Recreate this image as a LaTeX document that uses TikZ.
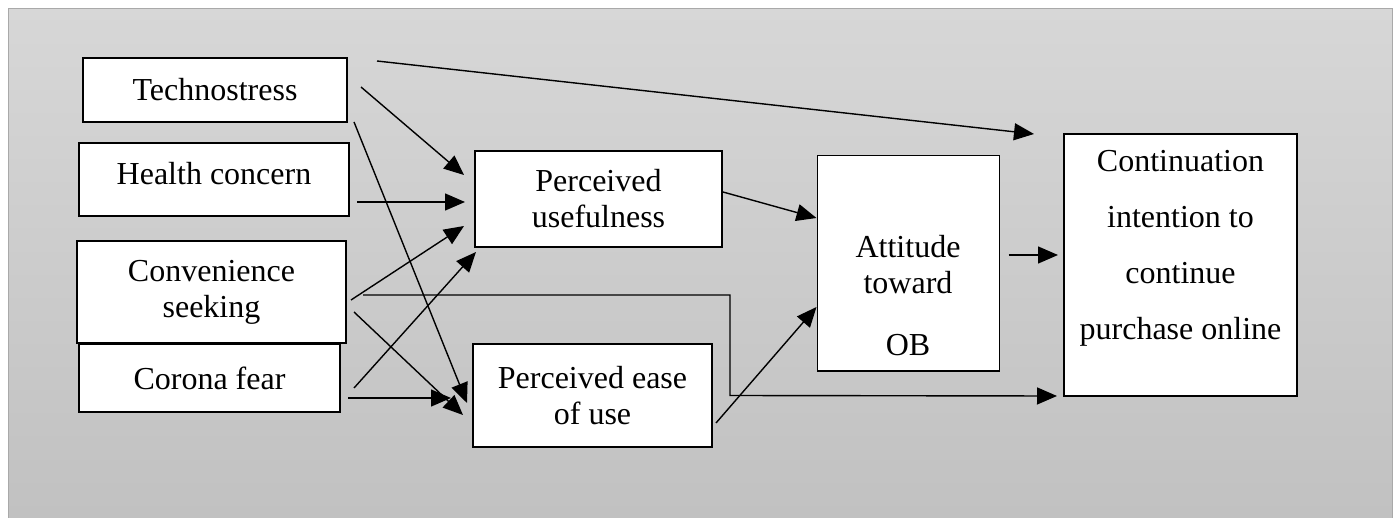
\documentclass[tikz,border=0pt]{standalone}
\usepackage{fontspec}
\setmainfont{Liberation Serif}
\usetikzlibrary{calc,arrows.meta}
\definecolor{bgtop} {HTML}{D7D7D7}
\definecolor{bgbot} {HTML}{C0C0C0}
\definecolor{bgrule}{HTML}{A9A9A9}

\begin{document}
\begin{tikzpicture}[x=0.5pt, y=-0.5pt,
    every node/.style={font=\fontsize{16}{18}\selectfont},
    box/.style={draw, fill=white, line width=1pt, inner sep=0pt, align=center},
    lbl/.style={inner sep=0pt, align=center},
    arr/.style={-{Triangle[length=10pt,width=8.5pt]}, line width=0.7pt}]
  \useasboundingbox (0,0) rectangle (1398,518);
  \fill[white] (0,0) rectangle (1398,518);
  \shade[top color=bgtop, bottom color=bgbot, draw=bgrule, line width=0.6pt]
    (8.5,8.5) rectangle (1392.5,540);

  % predictors
  \node[box, minimum width=132pt, minimum height=32pt] (techno) at (215,90) {Technostress};
  \node[box, minimum width=135pt, minimum height=36.5pt] (health) at (214,179.5) {};
  \node[lbl] (health-t) at (214,174) {Health concern};
  \node[box, minimum width=130.5pt, minimum height=34pt] (corona) at (209.5,378) {Corona fear};
  \node[box, minimum width=134.5pt, minimum height=51pt] (conv) at (211.5,292) {Convenience\\seeking};

  % mediators
  \node[box, minimum width=123.5pt, minimum height=48pt] (pu) at (598.5,199) {Perceived\\usefulness};
  \node[box, minimum width=119.5pt, minimum height=51.5pt] (peou) at (592.5,395.5) {Perceived ease\\of use};
  \node[box, line width=0.5pt, minimum width=91pt, minimum height=107.5pt] (att) at (908,263.5) {};
  \node[lbl] (att-t) at (908,296) {Attitude\\toward\\[13pt]OB};

  % outcome
  \node[box, minimum width=116.5pt, minimum height=131pt] (cont) at (1180.5,265) {};
  \node[lbl] (cont-t) at (1180.5,248) {Continuation\\[10pt]intention to\\[10pt]continue\\[10pt]purchase online};

  % paths
  \draw[arr] ($(techno.north east)+(29,4)$) -- ($(cont.north west)+(-29,1)$);
  \draw[arr] ($(techno.east)+(13,-3)$) -- ($(pu.west)+(-10,-24)$);
  \draw[arr] ($(techno.south east)+(6,-1)$) -- ($(peou.west)+(-5,7.5)$);
  \draw[arr] ($(health.east)+(7,22.5)$) -- ($(pu.west)+(-9,3)$);
  \draw[arr] ($(conv.east)+(4,8)$) -- ($(pu.west)+(-10,27)$);
  \draw[arr] ($(corona.east)+(13,10)$) -- ($(pu.south west)+(2,4)$);
  \draw[arr] ($(conv.east)+(7,20)$) -- ($(peou.west)+(-9,19.5)$);
  \draw[arr] ($(corona.east)+(7,20)$) -- ($(peou.west)+(-21,2.5)$);
  \draw[arr] ($(conv.east)+(16,3)$) -| ($(peou.east)+(17,0)$) -- ($(cont.south west)+(-6,-1)$);
  \draw[arr] ($(pu.east)+(0,-7)$) -- ($(att.west)+(0,-45.5)$);
  \draw[arr] ($(peou.east)+(3,27.5)$) -- ($(att.west)+(0,43.5)$);
  \draw[arr] ($(att.east)+(9,-8.5)$) -- ($(cont.west)+(-5,-10)$);
\end{tikzpicture}
\end{document}
